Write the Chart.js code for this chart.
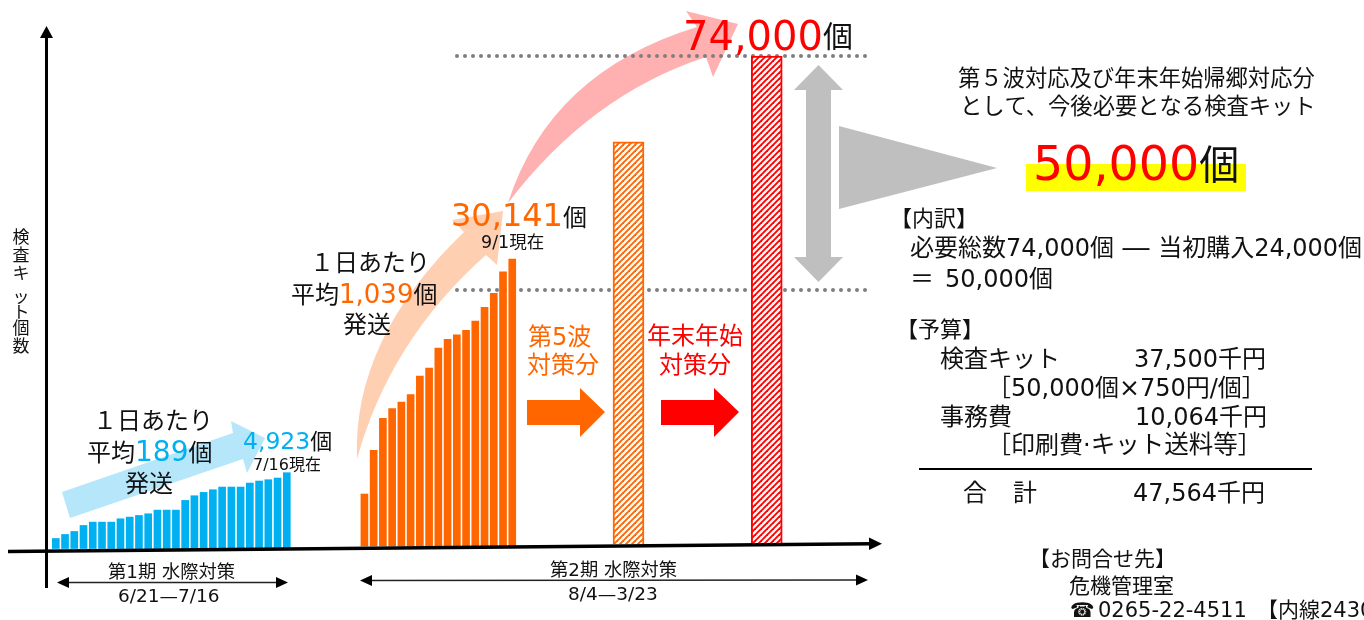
<!DOCTYPE html>
<html lang="ja">
<head>
<meta charset="utf-8">
<title>検査キット個数</title>
<script src="https://cdn.jsdelivr.net/npm/chart.js@4/dist/chart.umd.min.js"></script>
<style>
    html, body { margin: 0; padding: 0; background: #fff; overflow: hidden; }
    canvas { display: block; }
</style>
</head>
<body>
<canvas id="chart" width="1364" height="620"></canvas>
<script>
    // daily shipped kits
    const firstDays = ['6/21','6/22','6/23','6/24','6/25','6/26','6/27','6/28','6/29','6/30','7/1','7/2','7/3',
        '7/4','7/5','7/6','7/7','7/8','7/9','7/10','7/11','7/12','7/13','7/14','7/15','7/16'];
    const firstCounts = [650, 911, 1106, 1497, 1713, 1713, 1713, 1930, 2039, 2147, 2256, 2494, 2494,
        2494, 3123, 3427, 3644, 3817, 3991, 3991, 3991, 4251, 4381, 4468, 4576, 4923];
    const secondCounts = [5460, 10045, 13405, 14420, 15120, 15890, 17850, 18690, 20790, 21700, 22190,
        22645, 23625, 25060, 26530, 28805, 30141];
    const planLabels = ['第5波対策分', '年末年始対策分'];
    const planCounts = [61000, 74000];

    // horizontal slots, one slot is one daily bar
    const secondStart = 33.4;
    const planSlots = [61.98, 76.94];

    const FONT = '"DejaVu Sans", "Noto Sans CJK JP", sans-serif';
    const ORANGE = '#FF6600';
    const RED = '#FF0000';
    const BLUE = '#00B0F0';
    const INK = '#111';

    function hatch(color) {
        const tile = document.createElement('canvas');
        tile.width = tile.height = 6;
        const c = tile.getContext('2d');
        c.fillStyle = '#fff';
        c.fillRect(0, 0, 6, 6);
        c.strokeStyle = color;
        c.lineWidth = 1.9;
        [[-6, 6, 6, -6], [0, 6, 6, 0], [0, 12, 12, 0]].forEach(([a, b, d, e]) => {
            c.beginPath();
            c.moveTo(a, b);
            c.lineTo(d, e);
            c.stroke();
        });
        return c.createPattern(tile, 'repeat');
    }

    // y range that puts zero and a known value on the given pixel rows of the 620px canvas
    function yRange(value, topPx, zeroPx) {
        const perPx = value / (zeroPx - topPx);
        return { display: false, min: -(620 - zeroPx) * perPx, max: zeroPx * perPx, grid: { display: false } };
    }

    function polygon(ctx, color, pts) {
        ctx.fillStyle = color;
        ctx.beginPath();
        pts.forEach(([x, y], i) => i ? ctx.lineTo(x, y) : ctx.moveTo(x, y));
        ctx.closePath();
        ctx.fill();
    }

    function curvedArrow(ctx, color, a) {
        ctx.fillStyle = color;
        ctx.beginPath();
        ctx.moveTo(a.tail[0], a.tail[1]);
        ctx.quadraticCurveTo(a.upCtrl[0], a.upCtrl[1], a.upJoin[0], a.upJoin[1]);
        ctx.lineTo(a.headTop[0], a.headTop[1]);
        ctx.lineTo(a.tip[0], a.tip[1]);
        ctx.lineTo(a.headBottom[0], a.headBottom[1]);
        ctx.lineTo(a.lowJoin[0], a.lowJoin[1]);
        ctx.quadraticCurveTo(a.lowCtrl[0], a.lowCtrl[1], a.tail[0], a.tail[1]);
        ctx.closePath();
        ctx.fill();
    }

    function dots(ctx, y) {
        ctx.fillStyle = '#7F7F7F';
        for (let x = 457; x <= 865; x += 8) {
            ctx.beginPath();
            ctx.arc(x, y, 2, 0, Math.PI * 2);
            ctx.fill();
        }
    }

    function line(ctx, x1, y1, x2, y2, width, color) {
        ctx.strokeStyle = color;
        ctx.lineWidth = width;
        ctx.beginPath();
        ctx.moveTo(x1, y1);
        ctx.lineTo(x2, y2);
        ctx.stroke();
    }

    // text runs drawn one after the other from x on baseline y
    function runs(ctx, x, y, parts) {
        ctx.textBaseline = 'alphabetic';
        ctx.textAlign = 'left';
        parts.forEach(p => {
            ctx.font = `${p[1]}px ${FONT}`;
            ctx.fillStyle = p[2] || INK;
            const yy = y + (p[3] || 0);
            ctx.fillText(p[0], x, yy);
            x += ctx.measureText(p[0]).width;
        });
    }

    const backdrop = {
        id: 'backdrop',
        beforeDatasetsDraw(chart) {
            const ctx = chart.ctx;
            ctx.save();
            // straight arrow over the first period
            polygon(ctx, '#B5E6FA', [[62, 492], [233, 433], [231, 421], [265, 438], [247, 473], [243, 459], [70, 518]]);
            curvedArrow(ctx, '#FFCFB2', {
                tail: [357, 459], upCtrl: [352, 340], upJoin: [464, 232], headTop: [452, 220], tip: [503, 211],
                headBottom: [497, 265], lowJoin: [486, 255], lowCtrl: [390, 340]
            });
            curvedArrow(ctx, '#FFB0B0', {
                tail: [508, 203], upCtrl: [550, 72], upJoin: [697, 27], headTop: [686, 11], tip: [738, 24],
                headBottom: [713, 77], lowJoin: [706, 57], lowCtrl: [590, 95]
            });
            dots(ctx, 56);
            dots(ctx, 290);
            ctx.restore();
        }
    };

    const notes = {
        id: 'notes',
        afterDatasetsDraw(chart) {
            const ctx = chart.ctx;
            ctx.save();

            // axes
            line(ctx, 46.5, 588, 46.5, 36, 3, '#000');
            polygon(ctx, '#000', [[46.5, 26], [53, 38], [40, 38]]);
            line(ctx, 8, 551.5, 872, 543.8, 3.5, '#000');
            polygon(ctx, '#000', [[882, 543.7], [869, 537.5], [869, 550]]);

            // period spans
            line(ctx, 64, 582.5, 280, 582.5, 1.5, '#222');
            polygon(ctx, '#000', [[57, 582.5], [69, 577], [69, 588]]);
            polygon(ctx, '#000', [[288, 582.5], [276, 577], [276, 588]]);
            line(ctx, 366, 580.5, 860, 580, 1.5, '#222');
            polygon(ctx, '#000', [[360, 580.5], [372, 575], [372, 586]]);
            polygon(ctx, '#000', [[868, 580], [856, 574.5], [856, 585.5]]);

            // block arrows and the grey brace
            polygon(ctx, ORANGE, [[527, 400], [580, 400], [580, 388], [605, 412], [580, 437], [580, 425], [527, 425]]);
            polygon(ctx, RED, [[661, 400], [714, 400], [714, 388], [739, 412], [714, 437], [714, 425], [661, 425]]);
            polygon(ctx, '#BFBFBF', [[818.5, 65], [843, 90], [831, 90], [831, 257], [843, 257], [818.5, 282],
                [794, 257], [806, 257], [806, 90], [794, 90]]);
            polygon(ctx, '#BFBFBF', [[839, 126], [997, 168], [839, 209]]);

            // yellow marker behind the total
            ctx.fillStyle = '#FFFF00';
            ctx.fillRect(1026, 164, 220, 27);

            // vertical axis title
            ctx.font = `17px ${FONT}`;
            ctx.fillStyle = INK;
            ctx.textAlign = 'center';
            ctx.textBaseline = 'middle';
            [['検', 239], ['査', 257], ['キ', 275], ['ッ', 299], ['ト', 314], ['個', 330], ['数', 348]].forEach(([ch, y]) => {
                ctx.fillText(ch, 21, y);
            });

            // first period
            runs(ctx, 93, 429, [['１日あたり', 24]]);
            runs(ctx, 87, 461, [['平均', 24], ['189', 28, BLUE], ['個', 24]]);
            runs(ctx, 125, 492, [['発送', 24]]);
            runs(ctx, 243, 449, [['4,923', 23.5, BLUE], ['個', 22]]);
            runs(ctx, 253, 470, [['7/16現在', 16]]);
            runs(ctx, 108, 578, [['第1期 水際対策', 18.3]]);
            runs(ctx, 118, 602, [['6/21—7/16', 18.5]]);

            // second period
            runs(ctx, 310, 271, [['１日あたり', 24]]);
            runs(ctx, 291, 303, [['平均', 24], ['1,039', 26, ORANGE], ['個', 24]]);
            runs(ctx, 343, 333, [['発送', 24]]);
            runs(ctx, 451, 226, [['30,141', 32, ORANGE], ['個', 24]]);
            runs(ctx, 481, 248, [['9/1現在', 17.5]]);
            runs(ctx, 528, 345, [['第5波', 24, ORANGE]]);
            runs(ctx, 527, 373, [['対策分', 24, ORANGE]]);
            runs(ctx, 647, 344, [['年末年始', 24, RED]]);
            runs(ctx, 659, 373, [['対策分', 24, RED]]);
            runs(ctx, 683, 50, [['74,000', 40, RED], ['個', 30, INK, -3]]);
            runs(ctx, 550, 576, [['第2期 水際対策', 18.3]]);
            runs(ctx, 568, 600, [['8/4—3/23', 18.5]]);

            // right hand panel
            runs(ctx, 958, 86, [['第５波対応及び年末年始帰郷対応分', 22.3]]);
            runs(ctx, 960, 114, [['として、今後必要となる検査キット', 22.3]]);
            runs(ctx, 1033, 180, [['50,000', 47.5, RED], ['個', 40, INK, -1]]);
            runs(ctx, 890, 226, [['【内訳】', 22]]);
            runs(ctx, 910, 256, [['必要総数', 24], ['74,000', 24], ['個', 24], [' ― ', 27], ['当初購入', 24], ['24,000', 24], ['個', 24]]);
            runs(ctx, 910, 287, [['＝', 24]]);
            runs(ctx, 945, 287, [['50,000', 24], ['個', 24]]);
            runs(ctx, 896, 337, [['【予算】', 22]]);
            runs(ctx, 940, 367, [['検査キット', 24]]);
            runs(ctx, 1134, 367, [['37,500', 24], ['千円', 24]]);
            runs(ctx, 987, 396, [['［', 24], ['50,000', 24], ['個', 24], ['×', 25], ['750', 24], ['円', 24], ['/', 24], ['個', 24], ['］', 24]]);
            runs(ctx, 940, 425, [['事務費', 24]]);
            runs(ctx, 1135, 425, [['10,064', 24], ['千円', 24]]);
            runs(ctx, 987, 453, [['［', 24], ['印刷費', 24], ['·', 24], ['キット送料等', 24.5], ['］', 24]]);
            line(ctx, 919, 469, 1312, 469, 2, '#000');
            runs(ctx, 963, 501, [['合', 24]]);
            runs(ctx, 1013, 501, [['計', 24]]);
            runs(ctx, 1133, 501, [['47,564', 24], ['千円', 24]]);
            runs(ctx, 1029, 566, [['【お問合せ先】', 21]]);
            runs(ctx, 1069, 593, [['危機管理室', 21]]);
            runs(ctx, 1070, 617, [['☎', 20]]);
            runs(ctx, 1098, 617, [['0265-22-4511', 21]]);
            runs(ctx, 1257, 617, [['【内線2430', 21]]);

            ctx.restore();
        }
    };

    new Chart(document.getElementById('chart').getContext('2d'), {
        type: 'bar',
        data: {
            datasets: [
                {
                    label: '第1期 水際対策',
                    yAxisID: 'yFirst',
                    data: firstCounts.map((v, i) => ({ x: i, y: v, day: firstDays[i] })),
                    backgroundColor: BLUE,
                    barThickness: 7
                },
                {
                    label: '第2期 水際対策',
                    yAxisID: 'ySecond',
                    data: secondCounts.map((v, i) => ({ x: secondStart + i, y: v })),
                    backgroundColor: ORANGE,
                    barThickness: 7
                },
                {
                    label: planLabels[0],
                    yAxisID: 'yPlan',
                    data: [{ x: planSlots[0], y: planCounts[0] }],
                    backgroundColor: hatch(ORANGE),
                    borderColor: ORANGE,
                    borderWidth: 2,
                    barThickness: 31
                },
                {
                    label: planLabels[1],
                    yAxisID: 'yPlan',
                    data: [{ x: planSlots[1], y: planCounts[1] }],
                    backgroundColor: hatch(RED),
                    borderColor: RED,
                    borderWidth: 2,
                    barThickness: 31
                }
            ]
        },
        options: {
            responsive: false,
            animation: false,
            events: [],
            datasets: { bar: { grouped: false } },
            layout: { padding: 0 },
            plugins: { legend: { display: false }, tooltip: { enabled: false } },
            scales: {
                x: {
                    type: 'linear',
                    display: false,
                    offset: false,
                    min: -55.8 / 9.24,
                    max: (1364 - 55.8) / 9.24,
                    grid: { display: false }
                },
                // the slide is not drawn to one scale, so each block of bars has its own
                yFirst: yRange(firstCounts[firstCounts.length - 1], 472.7, 548.5),
                ySecond: yRange(secondCounts[secondCounts.length - 1], 259, 546),
                yPlan: yRange(planCounts[1], 56, 544)
            }
        },
        plugins: [backdrop, notes]
    });
</script>
</body>
</html>
